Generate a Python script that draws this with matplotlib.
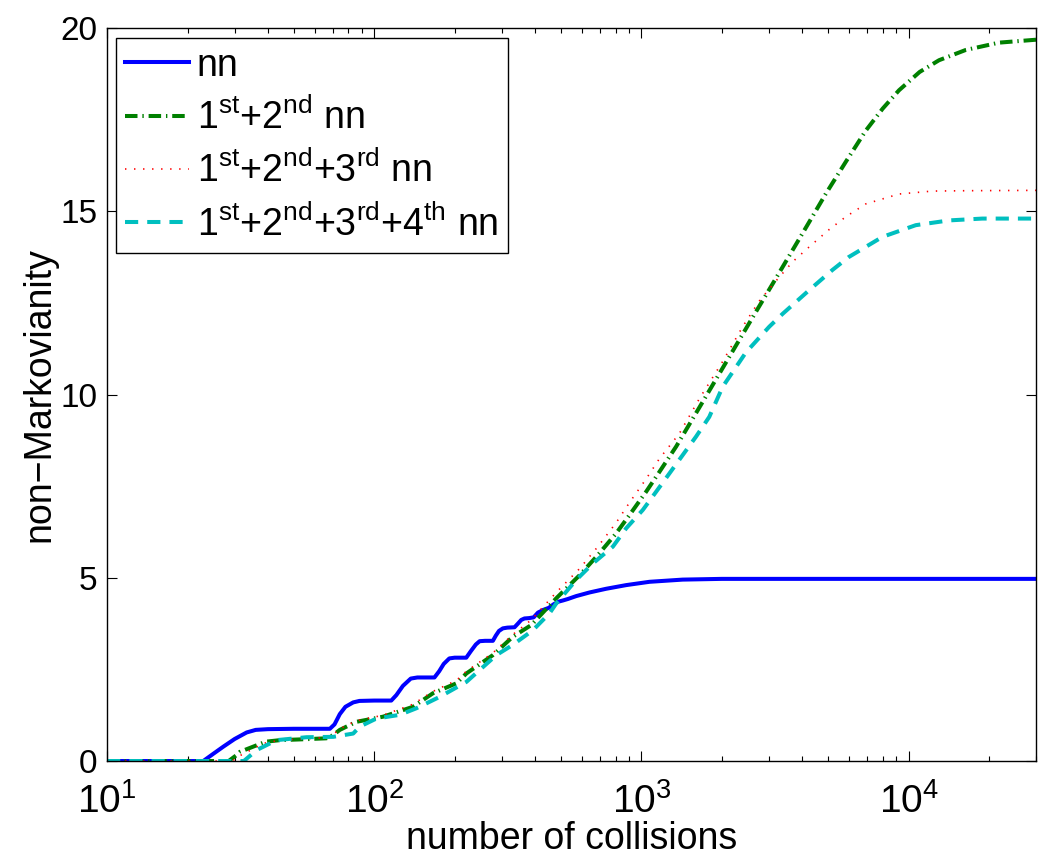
import numpy as np
import matplotlib
matplotlib.use("Agg")
import matplotlib.pyplot as plt

plt.rcParams['font.family'] = ['Liberation Sans', 'DejaVu Sans']
plt.rcParams['mathtext.fontset'] = 'custom'
plt.rcParams['mathtext.rm'] = 'Liberation Sans'
plt.rcParams['mathtext.it'] = 'Liberation Sans:italic'
plt.rcParams['mathtext.default'] = 'regular'
plt.rcParams['lines.scale_dashes'] = False

# nearest neighbours only
x_nn = [10, 22.9, 25, 27.2, 30, 33.3, 36, 40, 50, 60, 68.2, 71, 74.3, 78, 83.4, 88, 100,
        115.8, 121, 128, 137, 145, 168, 175, 182, 191, 200, 221, 230, 240, 248, 260, 278,
        285, 293, 303, 315, 335, 345, 355, 365, 380, 395, 410, 428, 450, 470, 490, 508,
        530, 570, 640, 738, 877, 1072, 1427, 2000, 3000, 30000]
y_nn = [0, 0, 0.2, 0.39, 0.6, 0.78, 0.85, 0.87, 0.88, 0.88, 0.88, 1.0, 1.28, 1.48, 1.6, 1.64, 1.65,
        1.65, 1.8, 2.05, 2.25, 2.28, 2.28, 2.45, 2.65, 2.8, 2.82, 2.82, 3.0, 3.18, 3.27, 3.28, 3.28,
        3.42, 3.55, 3.62, 3.64, 3.65, 3.75, 3.85, 3.89, 3.9, 3.92, 4.05, 4.12, 4.18, 4.28, 4.35, 4.38,
        4.42, 4.5, 4.6, 4.7, 4.8, 4.89, 4.95, 4.97, 4.97, 4.97]

# 1st + 2nd
x_12 = [10, 28.5, 30.5, 31.4, 38.4, 39.5, 44.4, 52.6, 66.2, 70.2, 74.3, 85.7, 107.9, 139.6,
        165.9, 202.9, 221.3, 278, 330, 387, 480, 587, 687, 804, 902, 1042, 1168, 1349, 1649,
        1958, 2325, 2685, 3099, 3681, 4250, 4903, 5823, 6916, 8000, 9208, 11000, 13000, 16360,
        21800, 30000]
y_12 = [0, 0, 0.16, 0.25, 0.5, 0.53, 0.57, 0.59, 0.62, 0.71, 0.85, 1.07, 1.21, 1.48,
        1.85, 2.12, 2.39, 2.89, 3.39, 3.71, 4.44, 5.07, 5.62, 6.21, 6.71, 7.35, 7.89, 8.58, 9.65,
        10.57, 11.49, 12.26, 13.02, 13.94, 14.71, 15.48, 16.35, 17.2, 17.8, 18.3, 18.8, 19.12, 19.4,
        19.6, 19.68]

# 1st + 2nd + 3rd
x_123 = [10, 29.5, 30.5, 32.9, 38.4, 44.4, 52.6, 66.2, 70.2, 74.3, 85.7, 107.9, 139.6, 165.9,
         202.9, 221.3, 278, 330, 387, 480, 587, 687, 804, 902, 1042, 1168, 1388, 1649, 2014,
         2393, 2762, 3190, 3681, 4250, 5043, 5823, 6916, 9208, 12270, 16360, 30000]
y_123 = [0, 0, 0.1, 0.22, 0.48, 0.57, 0.6, 0.64, 0.72, 0.88, 1.1, 1.25, 1.55, 1.9,
         2.2, 2.45, 2.95, 3.45, 3.85, 4.6, 5.25, 5.85, 6.5, 7.05, 7.7, 8.25, 8.94, 9.89, 10.9,
         11.85, 12.55, 13.1, 13.62, 14.03, 14.5, 14.85, 15.2, 15.47, 15.55, 15.56, 15.57]

# 1st + 2nd + 3rd + 4th
x_1234 = [10, 32.5, 36.3, 43.1, 55.8, 70.2, 83.4, 88.3, 101.9, 124.5, 143.8, 175.7, 221.3,
          286.4, 330, 392.6, 453, 480, 570, 658, 782, 877, 1012, 1136, 1274, 1601, 1795, 2014,
          2462, 3010, 3376, 4250, 5192, 5970, 7980, 10640, 14170, 18880, 30000]
y_1234 = [0, 0, 0.3, 0.57, 0.65, 0.66, 0.75, 0.94, 1.16, 1.26, 1.44, 1.75, 2.16,
          2.89, 3.17, 3.57, 4.03, 4.3, 4.94, 5.39, 5.85, 6.35, 6.85, 7.35, 7.85, 8.85, 9.39, 10.21,
          11.15, 11.85, 12.2, 12.85, 13.4, 13.75, 14.3, 14.62, 14.75, 14.8, 14.8]

labels = ['nn',
          '1$^{st}$+2$^{nd}$ nn',
          '1$^{st}$+2$^{nd}$+3$^{rd}$ nn',
          '1$^{st}$+2$^{nd}$+3$^{rd}$+4$^{th}$ nn']

fig = plt.figure(figsize=(10.5, 8.61), dpi=100)
ax = fig.add_axes([0.102, 0.1161, 0.8847, 0.8514])

ax.plot(x_nn, y_nn, color=(0, 0, 1), lw=2.9, label=labels[0])
ax.plot(x_12, y_12, color=(0, 0.5, 0), lw=2.9, dashes=[9, 3.5, 1, 3.5], label=labels[1])
ax.plot(x_123, y_123, color=(1, 0, 0), lw=1.2, dashes=[1, 5.5], label=labels[2])
ax.plot(x_1234, y_1234, color=(0, 0.75, 0.75), lw=2.9, dashes=[9.5, 6.5], label=labels[3])

ax.set_xscale('log')
ax.set_xlim(10, 30000)
ax.set_ylim(0, 20)
ax.set_yticks([0, 5, 10, 15, 20])
ax.set_xticks([10, 100, 1000, 10000])

ax.tick_params(which='both', direction='in', top=True, right=True)
ax.tick_params(which='major', length=7, width=0.8)
ax.tick_params(which='minor', length=3.5, width=0.8)
ax.tick_params(axis='y', labelsize=24, pad=7)
ax.tick_params(axis='x', labelsize=28, pad=16)
for s in ax.spines.values():
    s.set_linewidth(1.0)

ax.set_xlabel('number of collisions', fontsize=27, labelpad=0)
ax.set_ylabel('non\u2212Markovianity', fontsize=27, labelpad=2)

leg = ax.legend(loc='upper left', bbox_to_anchor=(0.0097, 0.986), borderaxespad=0,
                fontsize=27, handlelength=1.7, handletextpad=0.2, labelspacing=0.4,
                borderpad=0.25, fancybox=False, framealpha=1, edgecolor='black')
leg.get_frame().set_linewidth(1.0)

fig.savefig('out.png', dpi=100)
